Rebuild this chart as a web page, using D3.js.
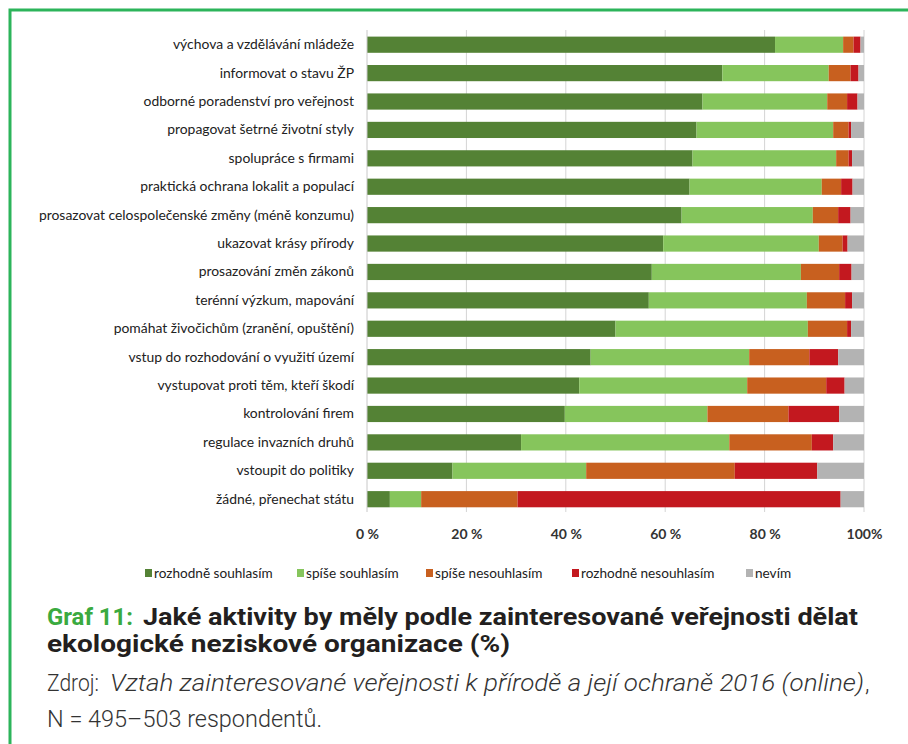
<!DOCTYPE html>
<html><head><meta charset="utf-8">
<script src="https://cdn.jsdelivr.net/npm/d3@7"></script>
<style>
html,body{margin:0;padding:0;background:#fff;}
svg{display:block;}
</style></head>
<body>
<svg id="chart" width="908" height="744"></svg>
<script>
const categories = [
  "výchova a vzdělávání mládeže",
  "informovat o stavu ŽP",
  "odborné poradenství pro veřejnost",
  "propagovat šetrné životní styly",
  "spolupráce s firmami",
  "praktická ochrana lokalit a populací",
  "prosazovat celospolečenské změny (méně konzumu)",
  "ukazovat krásy přírody",
  "prosazování změn zákonů",
  "terénní výzkum, mapování",
  "pomáhat živočichům (zranění, opuštění)",
  "vstup do rozhodování o využití území",
  "vystupovat proti těm, kteří škodí",
  "kontrolování firem",
  "regulace invazních druhů",
  "vstoupit do politiky",
  "žádné, přenechat státu"
];
const seriesNames = ["rozhodně souhlasím","spíše souhlasím","spíše nesouhlasím","rozhodně nesouhlasím","nevím"];
const rozhodneSouhlasim   = [82.1,71.5,67.5,66.3,65.5,64.9,63.3,59.6,57.3,56.7,50.0,45.0,42.7,39.8,31.0,17.2,4.6];
const spiseSouhlasim      = [13.7,21.4,25.1,27.5,28.9,26.6,26.4,31.3,30.0,31.8,38.7,31.9,33.8,28.7,41.9,26.9,6.3];
const spiseNesouhlasim    = [2.1,4.4,4.0,3.1,2.5,3.9,5.1,4.8,7.7,7.7,7.9,12.1,15.9,16.3,16.6,29.9,19.4];
const rozhodneNesouhlasim = [1.4,1.6,2.1,0.5,0.7,2.3,2.5,1.0,2.5,1.4,0.8,5.8,3.7,10.2,4.3,16.6,65.0];
const nevim               = [0.7,1.1,1.3,2.6,2.4,2.3,2.7,3.3,2.5,2.4,2.6,5.2,3.9,5.0,6.2,9.4,4.7];
const tickValues = [0,20,40,60,80,100];
const tickLabels = ["0 %","20 %","40 %","60 %","80 %","100%"];
const colors = ["#548235","#86c55c","#c8601f","#c3181f","#b3b3b3"];
const captionLabel = "Graf 11:";
const captionTitle1 = "Jaké aktivity by měly podle zainteresované veřejnosti dělat";
const captionTitle2 = "ekologické neziskové organizace (%)";
const sourcePrefix = "Zdroj:";
const sourceTitle = "Vztah zainteresované veřejnosti k přírodě a její ochraně 2016 (online)";
const sourceLine2 = "N = 495–503 respondentů.";

const svg = d3.select("#chart");
const labelFont = "Lato, 'Open Sans', sans-serif";
const capFont = "Roboto, 'Noto Sans', sans-serif";

// frame
svg.append("rect").attr("x",10).attr("y",10).attr("width",1000).attr("height",1000)
  .attr("fill","none").attr("stroke","#2cb45a").attr("stroke-width",3);

const series = [rozhodneSouhlasim,spiseSouhlasim,spiseNesouhlasim,rozhodneNesouhlasim,nevim];
const rows = categories.map((c,i)=>{ const o={cat:c}; seriesNames.forEach((s,j)=>o[s]=series[j][i]); return o; });

const x = d3.scaleLinear().domain([0,100]).range([367,864]);
const y = d3.scaleBand().domain(categories).range([30.5,513.4]).paddingInner(0.43).paddingOuter(0.215);

// gridlines
svg.append("g").selectAll("line").data(tickValues.slice(1)).join("line")
  .attr("x1",d=>x(d)).attr("x2",d=>x(d)).attr("y1",30).attr("y2",512)
  .attr("stroke","#d4d4d4").attr("stroke-width",1);

const stack = d3.stack().keys(seriesNames)(rows);
svg.append("g").selectAll("g").data(stack).join("g")
  .attr("fill",(d,i)=>colors[i])
  .selectAll("rect").data(d=>d).join("rect")
  .attr("x",d=>x(d[0])).attr("width",d=>Math.max(0,x(d[1])-x(d[0])))
  .attr("y",d=>y(d.data.cat)).attr("height",y.bandwidth());

// zero axis line
svg.append("line").attr("x1",x(0)).attr("x2",x(0)).attr("y1",30).attr("y2",512)
  .attr("stroke","#c8c8c8").attr("stroke-width",1);

// y labels
const yAxis = d3.axisLeft(y).tickSize(0).tickPadding(13);
const yg = svg.append("g").attr("transform",`translate(${x(0)},0)`).call(yAxis);
yg.select(".domain").remove();
yg.selectAll("text").attr("font-family",labelFont).attr("font-size",13.9).attr("fill","#222");

// x labels
const xAxis = d3.axisBottom(x).tickValues(tickValues).tickFormat((d,i)=>tickLabels[i]).tickSize(0).tickPadding(0);
const xg = svg.append("g").attr("transform","translate(0,529)").call(xAxis);
xg.select(".domain").remove();
xg.selectAll("text").attr("font-family",labelFont).attr("font-size",14).attr("font-weight","bold").attr("fill","#333");

// legend
const legendX = [145,297,426,572,746];
const lg = svg.append("g").selectAll("g").data(seriesNames).join("g")
  .attr("transform",(d,i)=>`translate(${legendX[i]},573)`);
lg.append("rect").attr("x",0).attr("y",-4).attr("width",7).attr("height",8).attr("fill",(d,i)=>colors[i]);
lg.append("text").attr("x",9).attr("dy","0.35em").text(d=>d)
  .attr("font-family",labelFont).attr("font-size",13.6).attr("fill","#222");

// caption
svg.append("text").attr("x",47).attr("y",625).text(captionLabel)
  .attr("font-family",capFont).attr("font-weight","bold").attr("font-size",24).attr("fill","#3aaa3f")
  .attr("textLength",86).attr("lengthAdjust","spacingAndGlyphs");
svg.append("text").attr("x",143).attr("y",625).text(captionTitle1)
  .attr("font-family",capFont).attr("font-weight","bold").attr("font-size",24).attr("fill","#231f20")
  .attr("textLength",715).attr("lengthAdjust","spacingAndGlyphs");
svg.append("text").attr("x",47).attr("y",652).text(captionTitle2)
  .attr("font-family",capFont).attr("font-weight","bold").attr("font-size",24).attr("fill","#231f20")
  .attr("textLength",463).attr("lengthAdjust","spacingAndGlyphs");
svg.append("text").attr("x",47).attr("y",691).text(sourcePrefix)
  .attr("font-family",capFont).attr("font-weight",300).attr("font-size",23).attr("fill","#333")
  .attr("textLength",52).attr("lengthAdjust","spacingAndGlyphs");
svg.append("text").attr("x",110).attr("y",691).text(sourceTitle)
  .attr("font-family",capFont).attr("font-weight",300).attr("font-style","italic").attr("font-size",23).attr("fill","#333")
  .attr("textLength",754).attr("lengthAdjust","spacingAndGlyphs");
svg.append("text").attr("x",865).attr("y",691).text(",")
  .attr("font-family",capFont).attr("font-weight",300).attr("font-size",23).attr("fill","#333");
svg.append("text").attr("x",47).attr("y",727).text(sourceLine2)
  .attr("font-family",capFont).attr("font-weight",300).attr("font-size",23).attr("fill","#333")
  .attr("textLength",275).attr("lengthAdjust","spacingAndGlyphs");
</script>
</body></html>
